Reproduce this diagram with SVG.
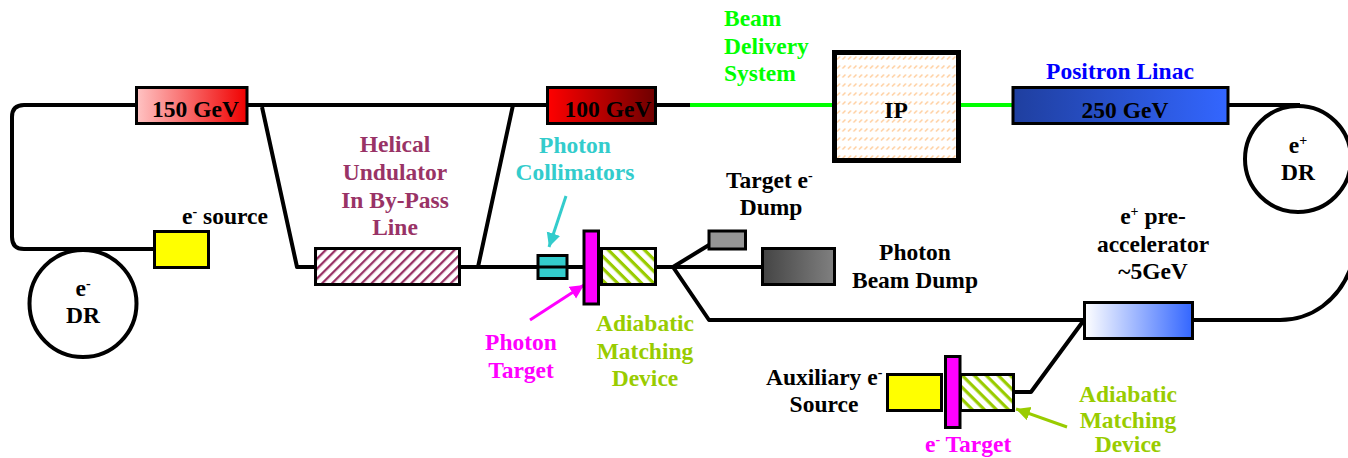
<svg xmlns="http://www.w3.org/2000/svg" width="1348" height="458" viewBox="0 0 1348 458">
<style>
text{font-family:"Liberation Serif","Times New Roman",serif;font-weight:bold;font-size:23.500px;text-anchor:middle;fill:#000}
.l{text-anchor:start}
.sup{font-size:14px}
.box{stroke:#000;stroke-width:3}
.wire{fill:none;stroke:#000;stroke-width:4;stroke-linejoin:round}
.beam{fill:none;stroke:#00ff00;stroke-width:4}
.ring{fill:#fff;stroke:#000;stroke-width:4}
.mag{fill:#ff00ff}.yel{fill:#ffff00}
.g{fill:#00ff00}.p{fill:#ff00ff}.o{fill:#99cc00}.t{fill:#33cccc}.b{fill:#0000ff}.u{fill:#993366}
</style>
<defs>
<linearGradient id="g150"><stop offset="0" stop-color="#ffc4c4"/><stop offset="1" stop-color="#f00000"/></linearGradient>
<linearGradient id="g100"><stop offset="0" stop-color="#ff0000"/><stop offset="1" stop-color="#6e0000"/></linearGradient>
<linearGradient id="g250"><stop offset="0" stop-color="#1f3f9f"/><stop offset="1" stop-color="#3366ff"/></linearGradient>
<linearGradient id="gpre"><stop offset="0" stop-color="#ffffff"/><stop offset="1" stop-color="#3366ff"/></linearGradient>
<linearGradient id="gdump"><stop offset="0" stop-color="#444444"/><stop offset="1" stop-color="#808080"/></linearGradient>
<pattern id="hU" width="7" height="7" patternUnits="userSpaceOnUse" patternTransform="rotate(-45)"><rect width="7" height="7" fill="#fff"/><rect width="7" height="2.300" fill="#993366"/></pattern>
<pattern id="hA" width="8.500" height="8.500" patternUnits="userSpaceOnUse" patternTransform="rotate(45)"><rect width="8.500" height="8.500" fill="#fff"/><rect width="8.500" height="3.200" fill="#99cc00"/></pattern>
<pattern id="hI" width="5.500" height="9" patternUnits="userSpaceOnUse"><rect width="5.500" height="9" fill="#fff"/><path d="M1 5.500L4 2.500" stroke="#ffcf9f" stroke-width="1.500"/></pattern>
<marker id="aT" markerUnits="userSpaceOnUse" markerWidth="16" markerHeight="16" refX="14" refY="7" orient="auto"><path d="M0 0L14 7L0 14Z" fill="#33cccc"/></marker>
<marker id="aP" markerUnits="userSpaceOnUse" markerWidth="16" markerHeight="16" refX="14" refY="7" orient="auto"><path d="M0 0L14 7L0 14Z" fill="#ff00ff"/></marker>
<marker id="aO" markerUnits="userSpaceOnUse" markerWidth="16" markerHeight="16" refX="14" refY="7" orient="auto"><path d="M0 0L14 7L0 14Z" fill="#99cc00"/></marker>
</defs>
<g id="connectors">
<path class="wire" d="M136 105H24Q12 105 12 117V237Q12 249 24 249H154"/>
<path class="wire" d="M247 105H547"/>
<path class="wire" d="M655 105H690"/>
<path class="beam" d="M690 105H832M960 105H1012"/>
<path class="wire" d="M262 107L297 267H315"/>
<path class="wire" d="M460 267H478L513 105"/>
<path class="wire" d="M478 267H583"/>
<path class="wire" d="M656 267H762"/>
<path class="wire" d="M673 267L709 245"/>
<path class="wire" d="M673 267L709 320H1084"/>
<path class="wire" d="M1193 320H1280C1312 320 1338 300 1350 270"/>
<path class="wire" d="M1228 105H1300"/>
<path class="wire" d="M1014 392H1031L1084 320"/>
<path d="M566 196L549 247" fill="none" stroke="#33cccc" stroke-width="3" marker-end="url(#aT)"/>
<path d="M530 320L584 285" fill="none" stroke="#ff00ff" stroke-width="3" marker-end="url(#aP)"/>
<path d="M1067 427L1016 409" fill="none" stroke="#99cc00" stroke-width="3" marker-end="url(#aO)"/>
</g>
<g id="linac150"><rect class="box" x="136.500" y="87.500" width="110.500" height="36" fill="url(#g150)"/><text x="195.500" y="117">150 GeV</text></g>
<g id="linac100"><rect class="box" x="547.500" y="87.500" width="108" height="36" fill="url(#g100)"/><text x="608" y="117">100 GeV</text></g>
<g id="ip"><rect x="834.500" y="52.500" width="124" height="108" fill="url(#hI)" stroke="#000" stroke-width="5"/><text x="896" y="118">IP</text></g>
<g id="linac250"><rect class="box" x="1013" y="87.500" width="215" height="36" fill="url(#g250)"/><text x="1125" y="118">250 GeV</text></g>
<g id="positron-linac-label"><text class="b" x="1120" y="79">Positron Linac</text></g>
<g id="beam-delivery"><text class="g l" x="724" y="26">Beam</text><text class="g l" x="724" y="54">Delivery</text><text class="g l" x="724" y="81">System</text></g>
<g id="e-dr"><circle class="ring" cx="83" cy="303.500" r="53.500"/><text x="83" y="296">e<tspan class="sup" dy="-8">-</tspan></text><text x="83" y="323">DR</text></g>
<g id="e-source"><rect class="box yel" x="154.500" y="231.500" width="54" height="36"/><text class="l" x="182" y="224">e<tspan class="sup" dy="-8">-</tspan><tspan dy="8"> source</tspan></text></g>
<g id="undulator"><rect class="box" x="315.500" y="248.500" width="144" height="36" fill="url(#hU)"/><text class="u" x="395" y="152">Helical</text><text class="u" x="395" y="180">Undulator</text><text class="u" x="395" y="208">In By-Pass</text><text class="u" x="395" y="235">Line</text></g>
<g id="collimators"><rect class="box t" x="538" y="255.500" width="29" height="23"/><path d="M538 267H567" stroke="#000" stroke-width="3"/><text class="t" x="575" y="153">Photon</text><text class="t" x="575" y="180">Collimators</text></g>
<g id="photon-target"><rect class="box mag" x="584" y="231" width="14.500" height="73"/><text class="p" x="521" y="350">Photon</text><text class="p" x="521" y="378">Target</text></g>
<g id="amd"><rect class="box" x="601.500" y="248.500" width="54" height="36" fill="url(#hA)"/><text class="o" x="645" y="331">Adiabatic</text><text class="o" x="645" y="359">Matching</text><text class="o" x="645" y="386">Device</text></g>
<g id="target-dump"><rect class="box" x="709" y="231" width="36.500" height="18" fill="#969696"/><text class="l" x="726" y="188">Target e<tspan class="sup" dy="-8">-</tspan></text><text x="771" y="215">Dump</text></g>
<g id="photon-dump"><rect class="box" x="762.500" y="248.500" width="72" height="36" fill="url(#gdump)"/><text x="915" y="260">Photon</text><text x="915" y="288">Beam Dump</text></g>
<g id="pre-accelerator"><rect class="box" x="1084.500" y="302.500" width="108" height="36" fill="url(#gpre)"/><text x="1153" y="224">e<tspan class="sup" dy="-8">+</tspan><tspan dy="8"> pre-</tspan></text><text x="1153" y="252">accelerator</text><text x="1153" y="279">~5GeV</text></g>
<g id="e-plus-dr"><circle class="ring" cx="1298" cy="159" r="53"/><text x="1298" y="153">e<tspan class="sup" dy="-8">+</tspan></text><text x="1298" y="180">DR</text></g>
<g id="aux-source"><rect class="box yel" x="887.500" y="374.500" width="54" height="36"/><text class="l" x="766" y="385">Auxiliary e<tspan class="sup" dy="-8">-</tspan></text><text x="824" y="412">Source</text></g>
<g id="aux-amd"><rect class="box" x="960.500" y="374.500" width="53" height="36" fill="url(#hA)"/><text class="o" x="1128" y="402">Adiabatic</text><text class="o" x="1128" y="428">Matching</text><text class="o" x="1128" y="452">Device</text></g>
<g id="e-target"><rect class="box mag" x="945.500" y="356.500" width="14.500" height="71"/><text class="p l" x="925" y="452">e<tspan class="sup" dy="-8">-</tspan><tspan dy="8"> Target</tspan></text></g>
</svg>
